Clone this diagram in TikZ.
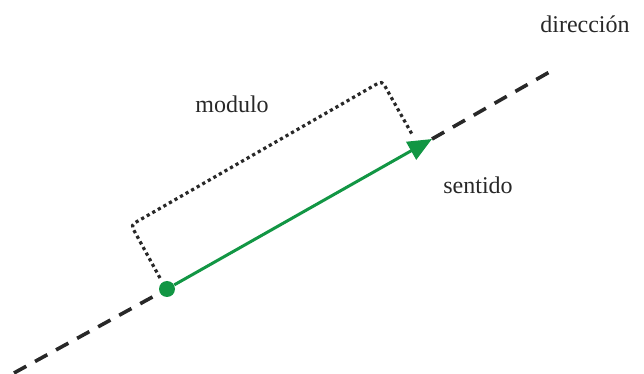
\documentclass[tikz,border=0pt]{standalone}
\usepackage{fontspec}
\setmainfont{Liberation Serif}
\usepackage{xcolor}
\usetikzlibrary{arrows.meta,positioning}

\definecolor{vecgreen}{RGB}{18,150,68}
\definecolor{inkgray}{RGB}{40,40,40}

\begin{document}
\begin{tikzpicture}[
    x=0.5pt, y=-0.5pt,
    >=Latex,
    font=\fontsize{12}{14}\selectfont,
    label/.style={
        text=inkgray,
        inner sep=0pt
    },
    axis/.style={
        draw=inkgray,
        line width=1.8pt,
        dash pattern=on 7pt off 5pt
    },
    vector/.style={
        draw=vecgreen,
        line width=1.5pt,
        -{Triangle[length=12pt,width=10pt]}
    },
    bracket/.style={
        draw=inkgray,
        line width=1.6pt,
        dash pattern=on 1.6pt off 1.6pt,
        rounded corners=2pt
    },
    origin/.style={
        circle,
        fill=vecgreen,
        inner sep=0pt,
        minimum size=8pt
    }
]
    \useasboundingbox (0,0) rectangle (644,374);

    % line of direction, broken where the vector lies
    \coordinate (lineA) at (14,373);
    \coordinate (lineB) at (553,70);
    \coordinate (foot) at (167,289);
    \coordinate (tip) at (432,139);
    \draw[axis] (lineA) -- (foot);
    \draw[axis] (tip) -- (lineB);

    % vector
    \node[origin] (start) at (foot) {};
    \draw[vector] (start) -- (tip);

    % magnitude bracket
    \coordinate (brA) at (160,278);
    \coordinate (brB) at (131,225);
    \coordinate (brC) at (382,81);
    \coordinate (brD) at (413,136);
    \draw[bracket] (brA) -- (brB) -- (brC) -- (brD);

    \node[label] (modulo) at (232,104) {modulo};
    \node[label] (direccion) at (585,24) {dirección};
    \node[label] (sentido) at (478,185) {sentido};
\end{tikzpicture}
\end{document}
